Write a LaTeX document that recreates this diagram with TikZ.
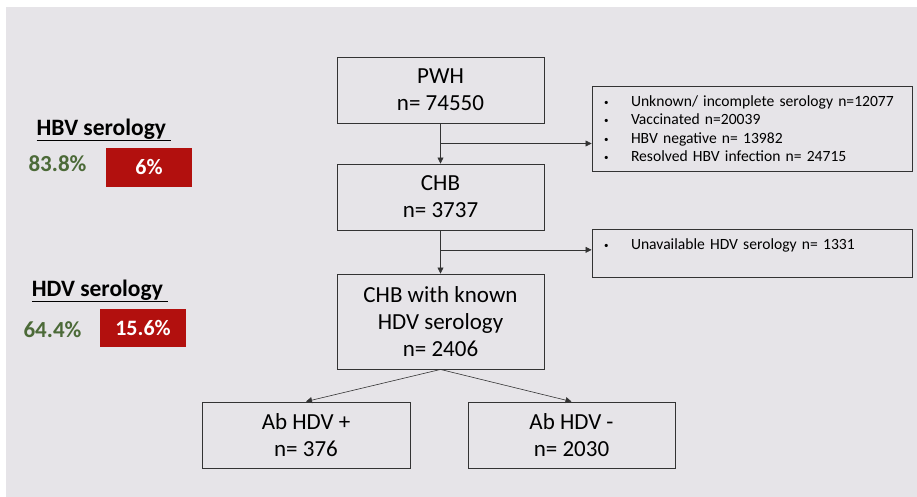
\documentclass[tikz,border=0pt]{standalone}
\usepackage{fontspec}
\setmainfont{Carlito}
\usetikzlibrary{arrows.meta,calc}
\definecolor{bggray}{HTML}{E6E4E8}
\definecolor{hgreen}{HTML}{4C6A38}
\definecolor{hred}{HTML}{B2100E}
\definecolor{lineg}{HTML}{333333}
\tikzset{
  fbox/.style={draw=lineg,line width=0.9pt,minimum width=207pt,minimum height=66pt,align=center,
    inner sep=0pt,font=\fontsize{23}{27}\selectfont},       % flow box
  xbox/.style={draw=lineg,line width=0.9pt,minimum width=320pt,text width=296pt,align=left,
    inner sep=0pt,font=\fontsize{15.6}{18.3}\selectfont},   % exclusion box
  flow/.style={lineg,line width=0.6pt,-{Triangle[length=6pt,width=6pt]}},
  head/.style={font=\fontsize{23.5}{27}\selectfont\bfseries},
  pct/.style={font=\fontsize{23}{27}\selectfont\bfseries,text=hgreen},
  bar/.style={fill=hred,text=white,minimum width=86pt,minimum height=38pt,
    inner sep=0pt,font=\fontsize{22}{26}\selectfont\bfseries},
}
\newcommand{\itm}[1]{\makebox[27pt][l]{\raisebox{1pt}{\fontsize{9}{9}\selectfont\textbullet}}#1}

\begin{document}
\begin{tikzpicture}[x=1pt,y=-1pt]
  \useasboundingbox (0,0) rectangle (917,497);
  \fill[bggray] (6,7) rectangle (917,497);

  % left summary
  \node[head] (hbvlab) at (104,130) {\underline{HBV serology\ }};
  \node[pct] (hbvpct) at (57.5,164) {83.8\%};
  \node[bar] (hbvbar) at (149,167.5) {6\%};
  \node[head] (hdvlab) at (100,291) {\underline{HDV serology\ }};
  \node[pct] (hdvpct) at (52.5,330) {64.4\%};
  \node[bar] (hdvbar) at (143,328) {15.6\%};

  % flow chart
  \node[fbox] (pwh) at (440.5,90) {PWH\\n= 74550};
  \node[fbox] (chb) at (440.5,197) {CHB\\n= 3737};
  \node[fbox,minimum height=95pt] (known) at (440.5,321.5) {CHB with known\\HDV serology\\n= 2406};
  \node[fbox,minimum width=208pt] (abpos) at (306,435) {Ab HDV +\\n= 376};
  \node[fbox] (abneg) at (571.5,435) {Ab HDV -\\n= 2030};

  \node[xbox,minimum height=85pt] (excl1) at (752,128.5) {%
    \itm{Unknown/ incomplete serology n=12077}\\
    \itm{Vaccinated n=20039}\\
    \itm{HBV negative n= 13982}\\
    \itm{Resolved HBV infection n= 24715}};
  \node[xbox,minimum height=48pt] (excl2) at (752,253) {%
    \itm{Unavailable HDV serology n= 1331}\\\mbox{}};

  \coordinate (b1) at ($(pwh.south)!0.5!(chb.north)$);
  \coordinate (b2) at ($(chb.south)!0.45!(known.north)$);
  \draw[flow] (pwh) -- (chb);
  \draw[flow] (chb) -- (known);
  \draw[flow] (b1) -- (excl1.west |- b1);
  \draw[flow] (b2) -- (excl2.west |- b2);
  \draw[flow] (known.south) -- (abpos.north);
  \draw[flow] (known.south) -- (abneg.north);
\end{tikzpicture}
\end{document}
